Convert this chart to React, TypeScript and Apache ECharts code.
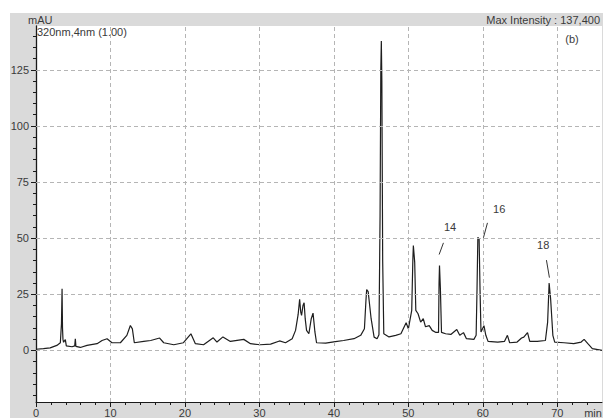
import React, { useEffect, useRef } from "react";
import * as echarts from "echarts";

// Retention time (min) and absorbance (mAU)
const retentionTime = [
  0.0, 1.0, 1.9, 2.8, 3.27, 3.42, 3.5, 3.56, 3.62, 3.7, 3.94, 4.07, 4.84, 5.2, 5.28, 5.36, 5.95, 6.85,
  8.2, 8.87, 9.54, 10.2, 11.33, 12.2, 12.67, 12.94, 13.2, 14.46, 15.4, 16.6, 17.15, 18.5, 19.8, 20.8,
  21.4, 22.5, 23.8, 24.3, 25.1, 26.1, 27.9, 28.8, 30.1, 31.5, 32.7, 33.5, 34.4, 34.85, 35.2, 35.4,
  35.55, 35.66, 35.85, 36.0, 36.15, 36.33, 36.64, 36.96, 37.2, 37.45, 37.67, 38.9, 40.2, 41.3, 42.7,
  43.6, 44.1, 44.3, 44.4, 44.6, 45.0, 45.4, 45.8, 46.05, 46.2, 46.3, 46.37, 46.44, 46.55, 46.7, 47.4,
  48.3, 49.0, 49.7, 50.0, 50.45, 50.6, 50.67, 50.85, 51.0, 51.3, 51.65, 52.0, 52.3, 52.8, 53.2, 53.7,
  54.05, 54.12, 54.18, 54.3, 54.45, 55.0, 55.7, 56.5, 56.9, 57.4, 57.8, 58.8, 59.1, 59.22, 59.33, 59.5,
  59.62, 59.75, 60.15, 60.4, 60.7, 62.0, 62.9, 63.3, 63.6, 64.6, 65.2, 65.5, 66.0, 66.3, 67.3, 68.4,
  68.7, 68.9, 69.1, 69.4, 69.65, 70.9, 72.2, 73.2, 73.6, 74.1, 74.7, 76.0,
];
const absorbance = [
  0.5, 0.8, 1.1, 2.2, 3.4, 12, 27.4, 10, 5, 3.6, 4.8, 2.0, 1.6, 2.0, 5.2, 1.8, 1.3, 2.2,
  3.0, 4.4, 5.2, 3.4, 3.4, 6.7, 11.1, 9.6, 3.4, 4.0, 4.4, 5.5, 3.4, 2.5, 3.4, 7.4,
  3.0, 2.5, 5.6, 3.7, 6.0, 4.0, 4.9, 3.0, 2.5, 2.8, 4.2, 3.4, 5.2, 8.9, 16, 22.7,
  17, 15.6, 20, 21.2, 14, 8.9, 7.4, 14.1, 16.6, 8.2, 3.4, 3.2, 3.9, 4.4, 5.2,
  6.7, 9.6, 22, 27.1, 26.2, 14.1, 5.9, 5.2, 7, 60, 125, 137.8, 120, 40, 7.4, 6.0,
  6.7, 7.4, 12.3, 9.6, 17.8, 40, 46.7, 39.3, 17.8, 16.3, 12.6, 14.1, 10.5, 11.0, 8.9, 8.0,
  8.0, 30, 37.8, 27.4, 8.0, 7.4, 7.1, 9.3, 6.7, 7.9, 5.2, 4.9, 6.7, 27.4, 50.4, 49.6,
  27.4, 8.2, 11.0, 6.7, 4.0, 3.7, 4.0, 6.7, 3.4, 3.7, 5.5, 5.9, 7.9, 4.0, 4.0, 4.4,
  12.6, 30.0, 23.0, 6.7, 3.7, 3.4, 3.0, 3.7, 4.9, 3.0, 0.8, 0,
];

// Peak annotations: label, label position, leader start, leader end
const peakLabels = ["14", "16", "18"];
const peakLabelPos = [[55.6, 54.9], [62.2, 63.0], [68.1, 47.0]];
const leaderStart = [[54.71, 47.9], [60.62, 56.8], [68.54, 40.2]];
const leaderEnd = [[54.13, 42.7], [60.08, 50.2], [68.94, 32.4]];

// Axis ticks / labels
const yLabelValues = [0, 25, 50, 75, 100, 125];
const yMinorTicks = [-20, -15, -10, -5, 0, 5, 10, 15, 20, 25, 30, 35, 40, 45, 50, 55, 60, 65, 70, 75, 80, 85, 90, 95, 100, 105, 110, 115, 120, 125, 130, 135, 140];
const xLabelValues = [0, 10, 20, 30, 40, 50, 60, 70];
const xMinorTicks = [0, 2, 4, 6, 8, 10, 12, 14, 16, 18, 20, 22, 24, 26, 28, 30, 32, 34, 36, 38, 40, 42, 44, 46, 48, 50, 52, 54, 56, 58, 60, 62, 64, 66, 68, 70, 72, 74];
const yGridValues = [0, 25, 50, 75, 100, 125];
const xGridValues = [10, 20, 30, 40, 50, 60, 70];

const X_MIN = 0;
const X_MAX = 76;
const Y_MIN = -23;
const Y_MAX = 144.5;

const FONT = "'Liberation Sans', Arial, sans-serif";
const TEXT = "#3a3a3a";

export default function App() {
  const ref = useRef<HTMLDivElement>(null);
  useEffect(() => {
    document.body.style.margin = "0";
    if (!ref.current) return;
    const chart = echarts.init(ref.current, undefined, { renderer: "svg" });
    const lineData = retentionTime.map((t, i) => [t, absorbance[i]]);
    const gridDash = { color: "#b5b5b5", width: 1, type: [4, 3] as any };
    const option: any = {
      animation: false,
      backgroundColor: "#ffffff",
      textStyle: { fontFamily: FONT },
      grid: { left: 36, right: 1, top: 26, bottom: 15, show: true, backgroundColor: "#ffffff", borderWidth: 0 },
      graphic: [
        { type: "rect", z: -10, silent: true, shape: { x: 10, y: 13, width: 593, height: 405 }, style: { fill: "#dadada" } },
        { type: "text", x: 28, y: 20, style: { text: "mAU", fill: TEXT, font: `11px ${FONT}`, textAlign: "left", textVerticalAlign: "middle" } },
        { type: "text", x: 600, y: 19.5, style: { text: "Max Intensity : 137,400", fill: TEXT, font: `11px ${FONT}`, textAlign: "right", textVerticalAlign: "middle" } },
        { type: "text", x: 37, y: 32, z: 10, style: { text: "320nm,4nm (1.00)", fill: TEXT, font: `11px ${FONT}`, textAlign: "left", textVerticalAlign: "middle" } },
        { type: "text", x: 572, y: 39, z: 10, style: { text: "(b)", fill: TEXT, font: `11px ${FONT}`, textAlign: "center", textVerticalAlign: "middle" } },
        { type: "text", x: 593, y: 413, style: { text: "min", fill: TEXT, font: `11px ${FONT}`, textAlign: "center", textVerticalAlign: "middle" } },
      ],
      xAxis: [
        {
          type: "value", position: "bottom", min: X_MIN, max: X_MAX,
          axisLine: { show: true, onZero: false, lineStyle: { color: "#1a1a1a", width: 1 } },
          axisTick: { show: true, customValues: xMinorTicks, length: 3, lineStyle: { color: "#1a1a1a" } },
          axisLabel: { show: true, customValues: xLabelValues, color: TEXT, fontSize: 11, margin: 5, fontFamily: FONT },
          splitLine: { show: false },
        },
        {
          type: "value", position: "bottom", min: X_MIN, max: X_MAX,
          axisLine: { show: false, onZero: false },
          axisTick: { show: true, customValues: xLabelValues, length: 5, lineStyle: { color: "#1a1a1a" } },
          axisLabel: { show: false },
          splitLine: { show: false },
        },
      ],
      yAxis: [
        {
          type: "value", position: "left", min: Y_MIN, max: Y_MAX,
          axisLine: { show: true, onZero: false, lineStyle: { color: "#1a1a1a", width: 1.3 } },
          axisTick: { show: true, customValues: yMinorTicks, length: 3, lineStyle: { color: "#1a1a1a" } },
          axisLabel: { show: true, customValues: yLabelValues, color: TEXT, fontSize: 11, margin: 7, fontFamily: FONT },
          splitLine: { show: false },
        },
        {
          type: "value", position: "left", min: Y_MIN, max: Y_MAX,
          axisLine: { show: false, onZero: false },
          axisTick: { show: true, customValues: yLabelValues, length: 5, lineStyle: { color: "#1a1a1a" } },
          axisLabel: { show: false },
          splitLine: { show: false },
        },
      ],
      series: [
        {
          type: "line",
          name: "grid",
          xAxisIndex: 0, yAxisIndex: 0,
          data: [[0, 0]],
          showSymbol: false,
          lineStyle: { width: 0 },
          silent: true,
          z: 1,
          markLine: {
            silent: true,
            symbol: ["none", "none"],
            label: { show: false },
            lineStyle: gridDash,
            emphasis: { disabled: true },
            data: [
              ...yGridValues.map((v) => ({ yAxis: v })),
              ...xGridValues.map((v) => ({ xAxis: v })),
            ],
          },
        },
        {
          type: "line",
          name: "320nm",
          xAxisIndex: 0, yAxisIndex: 0,
          data: lineData,
          showSymbol: false,
          symbol: "none",
          lineStyle: { color: "#1e1e1e", width: 1.2 },
          z: 3,
          markLine: {
            silent: true,
            symbol: ["none", "none"],
            label: { show: false },
            lineStyle: { color: "#333", width: 1, type: "solid" },
            emphasis: { disabled: true },
            data: leaderStart.map((s, i) => [{ coord: s }, { coord: leaderEnd[i] }]),
          },
          markPoint: {
            silent: true,
            symbol: "rect",
            symbolSize: [14, 12],
            itemStyle: { color: "rgba(0,0,0,0)" },
            label: { show: true, position: "inside", color: TEXT, fontSize: 11, fontFamily: FONT },
            emphasis: { disabled: true },
            data: peakLabels.map((t, i) => ({ coord: peakLabelPos[i], value: t, label: { formatter: t } })),
          },
        },
      ],
    };
    chart.setOption(option);
    return () => chart.dispose();
  }, []);
  return <div ref={ref} style={{ width: 603, height: 418 }} />;
}
